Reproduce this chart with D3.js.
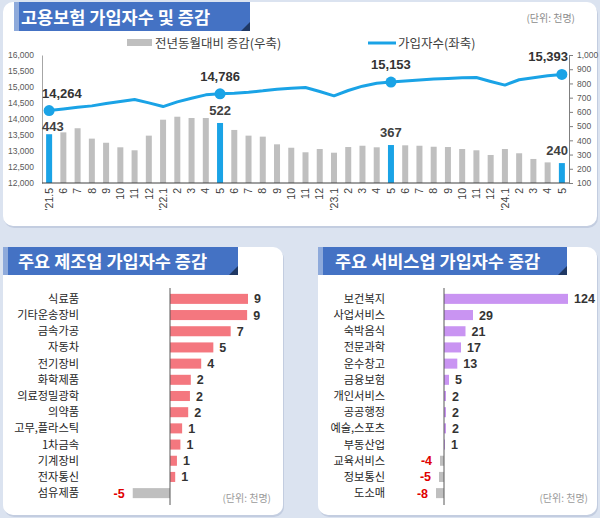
<!DOCTYPE html>
<html><head><meta charset="utf-8">
<script src="https://cdn.jsdelivr.net/npm/d3@7"></script>
<style>body{margin:0;background:#dbe3f0;} svg{display:block;}</style>
</head><body>
<script>
// ---------- DATA ----------
const months = ["'21.5","6","7","8","9","10","11","12","'22.1","2","3","4","5","6","7","8","9","10","11","12","'23.1","2","3","4","5","6","7","8","9","10","11","12","'24.1","2","3","4","5"];
const subscribers = [14264,14316,14368,14410,14483,14545,14608,14504,14389,14535,14650,14755,14786,14807,14838,14880,14932,14963,14984,14859,14723,14890,15026,15120,15153,15184,15216,15247,15268,15288,15299,15174,15059,15226,15288,15351,15393];
const yoyChange = [443,456,485,412,383,351,330,433,545,566,557,557,522,473,433,426,372,348,316,339,313,353,362,351,367,365,362,355,353,339,330,297,339,309,269,245,240];
const highlightIdx = [0,12,24,36];
const leftTicks = [12000,12500,13000,13500,14000,14500,15000,15500,16000];
const rightTicks = [100,200,300,400,500,600,700,800,900,1000];

const manuCats = ["식료품","기타운송장비","금속가공","자동차","전기장비","화학제품","의료정밀광학","의약품","고무,플라스틱","1차금속","기계장비","전자통신","섬유제품"];
const manuValues = [9.0,8.9,7.0,5.0,3.6,2.4,2.3,2.1,1.4,1.2,0.8,0.6,-4.3];
const manuLabels = ["9","9","7","5","4","2","2","2","1","1","1","1","-5"];

const servCats = ["보건복지","사업서비스","숙박음식","전문과학","운수창고","금융보험","개인서비스","공공행정","예술,스포츠","부동산업","교육서비스","정보통신","도소매"];
const servValues = [124,29,21.5,17,13.3,5,2,2,2,1,-4,-5,-8];
const servLabels = ["124","29","21","17","13","5","2","2","2","1","-4","-5","-8"];

// ---------- DRAW ----------
const KR = "'Noto Sans CJK KR', 'Noto Sans', sans-serif";
const NUM = "'Liberation Sans', Arial, sans-serif";
const svg = d3.select("body").append("svg").attr("width",600).attr("height",518);
svg.append("rect").attr("width",600).attr("height",518).attr("fill","#dbe3f0");

function card(x,y,w,h){
  svg.append("rect").attr("x",x+1).attr("y",y+2).attr("width",w).attr("height",h).attr("rx",10).attr("fill","#c3cde0");
  svg.append("rect").attr("x",x).attr("y",y).attr("width",w).attr("height",h).attr("rx",10).attr("fill","#ffffff");
}
function banner(x,y,w,h,text,tx,ty){
  svg.append("rect").attr("x",x).attr("y",y).attr("width",w).attr("height",h).attr("fill","#4472c4");
  svg.append("rect").attr("x",x).attr("y",y).attr("width",5).attr("height",h).attr("fill","#8eaadb");
  svg.append("path").attr("d",`M${x+w-9},${y+h}L${x+w},${y+h-9}L${x+w},${y+h}Z`).attr("fill","#1f3864");
  svg.append("text").attr("x",tx).attr("y",ty).text(text)
    .attr("font-family",KR).attr("font-weight",700).attr("font-size",17.5).attr("fill","#fff");
}

// Cards
card(3,2,594,224);
card(3,247,280,268);
card(318,247,279,268);
banner(14,2,236,29,"고용보험 가입자수 및 증감",21,24);
banner(3,247,235,28,"주요 제조업 가입자수 증감",18,268);
banner(318,247,249,28,"주요 서비스업 가입자수 증감",335,268);

// ----- Top chart -----
const x = d3.scalePoint().domain(d3.range(months.length)).range([42,569]).padding(0.5);
const yL = d3.scaleLinear().domain([12000,16000]).range([183,55]);
const yR = d3.scaleLinear().domain([100,1000]).range([183,55]);
const isHi = i => highlightIdx.includes(i);
const blue = "#1aa3e6";

svg.append("text").attr("x",575).attr("y",22).attr("text-anchor","end").text("(단위: 천명)")
  .attr("font-family",KR).attr("font-size",10).attr("fill","#8c8c8c");

// legend
svg.append("rect").attr("x",127).attr("y",39).attr("width",25).attr("height",7).attr("fill","#bfbfbf");
svg.append("text").attr("x",155).attr("y",48).text("전년동월대비 증감(우축)")
  .attr("font-family",KR).attr("font-size",12.5).attr("fill","#404040");
svg.append("line").attr("x1",368).attr("x2",396).attr("y1",43).attr("y2",43).attr("stroke",blue).attr("stroke-width",3);
svg.append("text").attr("x",398).attr("y",48).text("가입자수(좌축)")
  .attr("font-family",KR).attr("font-size",12.5).attr("fill","#404040");

// bars
svg.append("g").selectAll("rect").data(yoyChange).join("rect")
  .attr("x",(d,i)=>x(i)-3).attr("width",6)
  .attr("y",d=>yR(d)).attr("height",d=>yR(100)-yR(d))
  .attr("fill",(d,i)=>isHi(i)?blue:"#bfbfbf");

// axes
const gL = svg.append("g").attr("transform","translate(42,0)")
  .call(d3.axisLeft(yL).tickValues(leftTicks).tickSize(0).tickSizeOuter(0).tickPadding(8).tickFormat(d3.format(",")));
gL.select(".domain").attr("stroke","#a6a6a6");
gL.selectAll("text").attr("font-family",NUM).attr("font-size",8.5).attr("fill","#595959");

const gR = svg.append("g").attr("transform","translate(569,0)")
  .call(d3.axisRight(yR).tickValues(rightTicks).tickSize(4).tickSizeOuter(0).tickPadding(4).tickFormat(d3.format(",")));
gR.select(".domain").attr("stroke","#7f7f7f");
gR.selectAll("line").attr("stroke","#7f7f7f");
gR.selectAll("text").attr("font-family",NUM).attr("font-size",8.5).attr("fill","#595959");

svg.append("line").attr("x1",42).attr("x2",569).attr("y1",yR(100)).attr("y2",yR(100)).attr("stroke","#404040").attr("stroke-width",1.2);

// x labels
svg.append("g").selectAll("text").data(months).join("text")
  .attr("transform",(d,i)=>`translate(${x(i)},188) rotate(-90)`)
  .attr("text-anchor","end").attr("dy","0.35em")
  .attr("font-family",NUM).attr("font-size",10.5).attr("fill","#404040")
  .text(d=>d);

// line
svg.append("path").datum(subscribers)
  .attr("d",d3.line().x((d,i)=>x(i)).y(d=>yL(d)))
  .attr("fill","none").attr("stroke",blue).attr("stroke-width",3).attr("stroke-linejoin","round");
svg.append("g").selectAll("circle").data(highlightIdx).join("circle")
  .attr("cx",i=>x(i)).attr("cy",i=>yL(subscribers[i])).attr("r",5.5).attr("fill",blue);

// labels
const fmt = d3.format(",");
highlightIdx.forEach(i=>{
  const t = svg.append("text").attr("y",yL(subscribers[i])-13).text(fmt(subscribers[i]))
    .attr("font-family",NUM).attr("font-weight",700).attr("font-size",13).attr("fill","#333");
  const w = t.node().getComputedTextLength();
  const cx = Math.min(Math.max(x(i),42+w/2),568-w/2);
  t.attr("x",cx).attr("text-anchor","middle");
  const b = svg.append("text").attr("y",Math.max(yR(yoyChange[i])-8, yL(subscribers[i])+20)).text(yoyChange[i])
    .attr("font-family",NUM).attr("font-weight",700).attr("font-size",13).attr("fill","#404040");
  const wb = b.node().getComputedTextLength();
  const bx = Math.min(Math.max(x(i),42+wb/2),568-wb/2);
  b.attr("x",bx).attr("text-anchor","middle");
});

// ----- Bottom bar charts -----
function hbar(cats, vals, labels, xs, labelX, color, unitX){
  const yb = d3.scaleBand().domain(d3.range(cats.length)).range([287.7,504.3]).padding(0.38);
  const g = svg.append("g");
  g.selectAll("rect").data(vals).join("rect")
    .attr("x",d=>Math.min(xs(0),xs(d))).attr("width",d=>Math.abs(xs(d)-xs(0)))
    .attr("y",(d,i)=>yb(i)).attr("height",yb.bandwidth())
    .attr("fill",d=>d<0?"#bfbfbf":color);
  g.append("line").attr("x1",xs(0)).attr("x2",xs(0)).attr("y1",288).attr("y2",505).attr("stroke","#595959").attr("stroke-width",1);
  g.selectAll("text.cat").data(cats).join("text").attr("class","cat")
    .attr("x",labelX).attr("y",(d,i)=>yb(i)+yb.bandwidth()/2).attr("dy","0.36em")
    .attr("text-anchor","end").attr("font-family",KR).attr("font-size",11.2).attr("fill","#262626").text(d=>d);
  g.selectAll("text.val").data(vals).join("text").attr("class","val")
    .attr("x",d=>d<0?xs(d)-8:xs(d)+6).attr("y",(d,i)=>yb(i)+yb.bandwidth()/2).attr("dy","0.36em")
    .attr("text-anchor",d=>d<0?"end":"start").attr("font-family",NUM).attr("font-weight",700).attr("font-size",12.5)
    .attr("fill",d=>d<0?"#e00000":"#333").text((d,i)=>labels[i]);
  g.append("text").attr("x",unitX).attr("y",502).attr("text-anchor","end").text("(단위: 천명)")
    .attr("font-family",KR).attr("font-size",10).attr("fill","#9a9a9a");
}
const xm = d3.scaleLinear().domain([0,9]).range([170,248]);
hbar(manuCats, manuValues, manuLabels, xm, 79, "#f4777f", 271);
const xsv = d3.scaleLinear().domain([0,124]).range([444,568]);
hbar(servCats, servValues, servLabels, xsv, 385, "#c994f2", 588);
</script>
</body></html>
